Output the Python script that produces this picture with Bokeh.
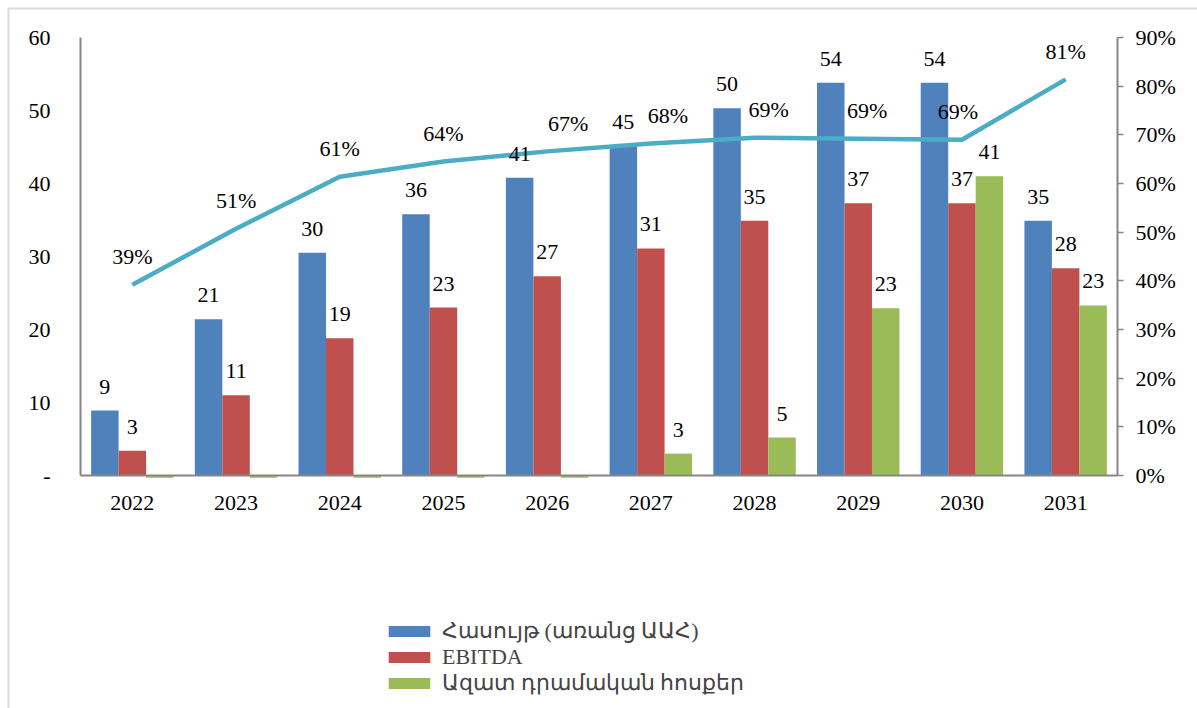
from bokeh.plotting import figure
from bokeh.models import (ColumnDataSource, Range1d, FactorRange, LinearAxis, CategoricalAxis,
                          FixedTicker, Legend, LegendItem, BoxAnnotation)
from bokeh.transform import dodge
from bokeh.core.properties import value
from bokeh.embed import file_html
from bokeh.resources import INLINE

years = ["2022", "2023", "2024", "2025", "2026", "2027", "2028", "2029", "2030", "2031"]
revenue = [8.9, 21.4, 30.5, 35.8, 40.8, 45.2, 50.3, 53.8, 53.8, 34.9]
ebitda = [3.4, 11.0, 18.8, 23.0, 27.3, 31.1, 34.9, 37.3, 37.3, 28.4]
fcf = [-0.3, -0.3, -0.3, -0.3, -0.3, 3.0, 5.2, 22.9, 41.0, 23.3]
margin = [0.392, 0.507, 0.614, 0.645, 0.666, 0.682, 0.694, 0.692, 0.690, 0.814]
series_names = ["Հասույթ (առանց ԱԱՀ)", "EBITDA", "Ազատ դրամական հոսքեր"]
left_ticks = [0, 10, 20, 30, 40, 50, 60]
right_ticks = [0, 0.1, 0.2, 0.3, 0.4, 0.5, 0.6, 0.7, 0.8, 0.9]

# ---- layout / style constants ----
margin_label_dx = [0, 0, 0, 0, 21, 17, 14, 9, -4, 0]
W, H = 1197, 708
PLOT_L, PLOT_R = 80, 1117          # pixel x of value axes
PLOT_T, PLOT_B = 37, 475           # pixel y of 60 / 0
LMAX, RMAX = 60, 0.9
cat_px = (PLOT_R - PLOT_L) / len(years)
pad_units = PLOT_L / cat_px
ppu = (PLOT_B - PLOT_T) / LMAX
y0, y1 = -(H - PLOT_B) / ppu, PLOT_B / ppu
k = RMAX / LMAX

FONT = "Liberation Serif"
FS = "22px"
BLUE, RED, GREEN, TEAL = "#4F81BD", "#C0504D", "#9BBB59", "#4BACC6"
AX = "#868686"

src = ColumnDataSource(dict(
    year=years, rev=revenue, ebit=ebitda, fcf=fcf, m=margin, dx=margin_label_dx,
    rev_t=[str(round(v)) for v in revenue],
    ebit_t=[str(round(v)) for v in ebitda],
    fcf_t=[str(round(v)) if v > 0 else "" for v in fcf],
    m_t=[f"{round(v * 100)}%" for v in margin],
))

xr = FactorRange(*years, range_padding=pad_units, range_padding_units="absolute")
p = figure(width=W, height=H, x_range=xr, y_range=Range1d(y0, y1),
           output_backend="svg", toolbar_location=None,
           x_axis_location=None, y_axis_location=None,
           min_border=0, min_border_left=0, min_border_right=0,
           min_border_top=0, min_border_bottom=0)
p.extra_y_ranges = {"pct": Range1d(y0 * k, y1 * k)}
p.grid.visible = False
p.outline_line_color = None
p.background_fill_color = "white"
p.border_fill_color = "white"

bw = 0.265
r1 = p.vbar(x=dodge("year", -bw, range=p.x_range), top="rev", width=bw, source=src,
            fill_color=BLUE, line_color=None)
r2 = p.vbar(x=dodge("year", 0, range=p.x_range), top="ebit", width=bw, source=src,
            fill_color=RED, line_color=None)
r3 = p.vbar(x=dodge("year", bw, range=p.x_range), top="fcf", width=bw, source=src,
            fill_color=GREEN, line_color=None)

p.line(x="year", y="m", source=src, y_range_name="pct", line_color=TEAL, line_width=4.5)

for col, txt, off in (("rev", "rev_t", -bw), ("ebit", "ebit_t", 0), ("fcf", "fcf_t", bw)):
    p.text(x=dodge("year", off, range=p.x_range), y=col, text=txt, source=src,
           text_align="center", text_baseline="middle", y_offset=-24,
           text_font=value(FONT), text_font_size=FS, text_color="black")

p.text(x="year", y="m", text="m_t", source=src, y_range_name="pct", x_offset="dx",
       text_align="center", text_baseline="middle", y_offset=-28,
       text_font=value(FONT), text_font_size=FS, text_color="black")

# ---- axes placed inside the full-canvas frame ----
xa = CategoricalAxis(fixed_location=0, bounds=(0, len(years)))
xa.axis_line_color = AX
xa.axis_line_width = 2
xa.major_tick_line_color = None
xa.minor_tick_line_color = None
xa.major_label_standoff = 14
xa.major_label_text_font = FONT
xa.major_label_text_font_size = FS
xa.major_label_text_color = "black"
p.add_layout(xa, "below")

ya = LinearAxis(fixed_location=0, bounds=(0, LMAX), ticker=FixedTicker(ticks=left_ticks))
ya.major_label_overrides = {0: "-"}
ya.axis_line_color = AX
ya.axis_line_width = 2
ya.major_tick_line_color = None
ya.minor_tick_line_color = None
ya.major_label_standoff = 24
ya.major_label_text_font = FONT
ya.major_label_text_font_size = FS
ya.major_label_text_color = "black"
p.add_layout(ya, "left")

ra = LinearAxis(y_range_name="pct", fixed_location=len(years), bounds=(0, RMAX),
                ticker=FixedTicker(ticks=right_ticks))
ra.major_label_overrides = {t: f"{round(t * 100)}%" for t in right_ticks}
ra.axis_line_color = AX
ra.axis_line_width = 2
ra.major_tick_line_color = AX
ra.major_tick_line_width = 1.5
ra.major_tick_in = 0
ra.major_tick_out = 6
ra.minor_tick_line_color = None
ra.major_label_standoff = 12
ra.major_label_text_font = FONT
ra.major_label_text_font_size = FS
ra.major_label_text_color = "black"
p.add_layout(ra, "right")

legend = Legend(items=[LegendItem(label=series_names[0], renderers=[r1]),
                       LegendItem(label=series_names[1], renderers=[r2]),
                       LegendItem(label=series_names[2], renderers=[r3])],
                location=(383, 12), orientation="vertical",
                glyph_width=52, glyph_height=14, label_height=20, label_standoff=7,
                spacing=0, padding=0, margin=0,
                label_text_font=FONT, label_text_font_size=FS,
                background_fill_alpha=0, border_line_color=None)
p.add_layout(legend, "center")

# outer chart-area border (left and top edges visible in the window)
frame = BoxAnnotation(left=-pad_units + 8 / cat_px, right=len(years) + 2 * pad_units,
                      top=y1 - 8 / ppu, bottom=y0 * 2,
                      fill_alpha=0, line_color=AX, line_width=2, level="underlay")
p.add_layout(frame)

open("out.html", "w").write(file_html(p, INLINE))
